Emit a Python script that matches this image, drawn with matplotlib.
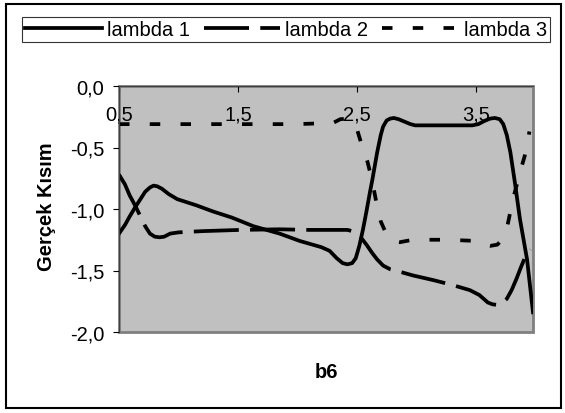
import matplotlib
matplotlib.use('Agg')
import matplotlib.pyplot as plt
from matplotlib.patches import Rectangle

plt.rcParams['font.family'] = 'Liberation Sans'

# Real part of the three eigenvalues against b6
b6_l1 = [0.50, 0.55, 0.59, 0.64, 0.68, 0.72, 0.76, 0.79, 0.82, 0.86, 0.92, 0.99,
         1.15, 1.29, 1.45, 1.63, 1.85, 2.02, 2.20, 2.27, 2.33, 2.38, 2.42, 2.46,
         2.49, 2.52, 2.55, 2.58, 2.61, 2.63, 2.67, 2.70, 2.72, 2.75, 2.78, 2.81,
         2.85, 2.90, 2.95, 2.99, 3.20, 3.47, 3.52, 3.57, 3.62, 3.66, 3.70, 3.73,
         3.76, 3.79, 3.83, 3.87, 3.93, 3.98]
lambda1 = [-1.20, -1.13, -1.06, -0.98, -0.92, -0.86, -0.825, -0.81, -0.815, -0.835,
           -0.88, -0.92, -0.97, -1.02, -1.07, -1.14, -1.20, -1.26, -1.31, -1.34,
           -1.40, -1.44, -1.45, -1.44, -1.40, -1.30, -1.17, -1.02, -0.86, -0.76,
           -0.54, -0.40, -0.33, -0.28, -0.265, -0.26, -0.27, -0.29, -0.31, -0.32,
           -0.32, -0.32, -0.31, -0.285, -0.265, -0.26, -0.27, -0.31, -0.40, -0.54,
           -0.80, -1.08, -1.41, -1.84]

b6_l2 = [0.50, 0.55, 0.59, 0.64, 0.68, 0.72, 0.76, 0.80, 0.84, 0.88, 0.93, 1.00,
         1.20, 1.52, 1.85, 2.10, 2.42, 2.46, 2.50, 2.54, 2.58, 2.63, 2.67, 2.72,
         2.78, 2.86, 2.97, 3.15, 3.31, 3.45, 3.53, 3.60, 3.64, 3.68, 3.72, 3.76,
         3.80, 3.84, 3.88, 3.91, 3.96]
lambda2 = [-0.72, -0.80, -0.89, -0.98, -1.06, -1.14, -1.20, -1.225, -1.23, -1.225,
           -1.20, -1.19, -1.18, -1.17, -1.165, -1.17, -1.17, -1.18, -1.20, -1.24,
           -1.29, -1.36, -1.41, -1.46, -1.49, -1.51, -1.54, -1.58, -1.62, -1.66,
           -1.70, -1.76, -1.775, -1.78, -1.765, -1.73, -1.66, -1.57, -1.47, -1.40,
           -1.33]

b6_l3 = [0.50, 1.00, 1.50, 2.00, 2.30, 2.36, 2.42, 2.46, 2.50, 2.55, 2.59, 2.63,
         2.67, 2.70, 2.75, 2.80, 2.86, 2.97, 3.26, 3.51, 3.57, 3.62, 3.68, 3.72,
         3.76, 3.79, 3.82, 3.85, 3.88, 3.91, 3.95]
lambda3 = [-0.31, -0.31, -0.31, -0.31, -0.30, -0.27, -0.265, -0.29, -0.35, -0.51,
           -0.62, -0.78, -0.98, -1.10, -1.21, -1.26, -1.27, -1.25, -1.25, -1.26,
           -1.29, -1.30, -1.29, -1.25, -1.16, -1.02, -0.89, -0.78, -0.67, -0.57,
           -0.37]

xtick_vals = [0.5, 1.5, 2.5, 3.5]
xtick_labels = ['0,5', '1,5', '2,5', '3,5']
ytick_vals = [0.0, -0.5, -1.0, -1.5, -2.0]
ytick_labels = ['0,0', '-0,5', '-1,0', '-1,5', '-2,0']

fs = 14.5

fig = plt.figure(figsize=(5.65, 4.14), dpi=100)
ax = fig.add_axes([119/565, 1 - 333/414, (533 - 119)/565, (333 - 87)/414])
ax.set_facecolor('#c0c0c0')

lw = 2.7
ax.plot(b6_l1, lambda1, color='black', lw=lw, solid_joinstyle='round',
        label='lambda 1')
ax.plot(b6_l2, lambda2, color='black', lw=lw, linestyle=(0, (12, 3)),
        label='lambda 2')
ax.plot(b6_l3, lambda3, color='black', lw=lw, linestyle=(0, (2.8, 5.4)),
        label='lambda 3')

ax.set_xlim(0.5, 3.98)
ax.set_ylim(-2.0, 0.0)

# x axis sits on y = 0, i.e. along the top edge
ax.spines['bottom'].set_position(('data', 0))
ax.spines['bottom'].set_color('#404040')
ax.spines['top'].set_visible(False)
ax.spines['right'].set_visible(False)
ax.spines['left'].set_color('#404040')
ax.patch.set_edgecolor('#808080')
ax.patch.set_linewidth(2)

ax.set_xticks(xtick_vals)
ax.set_xticklabels(xtick_labels)
ax.set_yticks(ytick_vals)
ax.set_yticklabels(ytick_labels)
ax.tick_params(axis='x', direction='out', length=4.5, width=0.8, pad=9,
               labelsize=fs, colors='black')
ax.tick_params(axis='y', direction='out', length=4.5, width=0.8, pad=6,
               labelsize=fs, colors='black')

fig.text(326/565, 1 - 373/414, 'b6', ha='center', va='center',
         fontsize=fs, fontweight='bold')
fig.text(47/565, 1 - 207/414, 'Gerçek Kısım', ha='center', va='center',
         rotation=90, fontsize=fs, fontweight='bold')

leg = fig.legend(loc='lower left', ncol=3, mode='expand',
                 bbox_to_anchor=(22/565, 1 - 43/414, (550 - 22)/565, 29/414),
                 fontsize=fs, frameon=True, fancybox=False, shadow=False,
                 handlelength=3.8, handletextpad=0.25, columnspacing=0.3,
                 borderpad=0.15, borderaxespad=0)
leg.get_frame().set_edgecolor('black')
leg.get_frame().set_linewidth(0.8)

# outer chart border
fig.patches.append(Rectangle((6/565, 1 - 409/414), (561 - 6)/565, (409 - 5)/414,
                             transform=fig.transFigure, fill=False,
                             edgecolor='black', linewidth=1.5))

fig.savefig('out.png', dpi=100)
